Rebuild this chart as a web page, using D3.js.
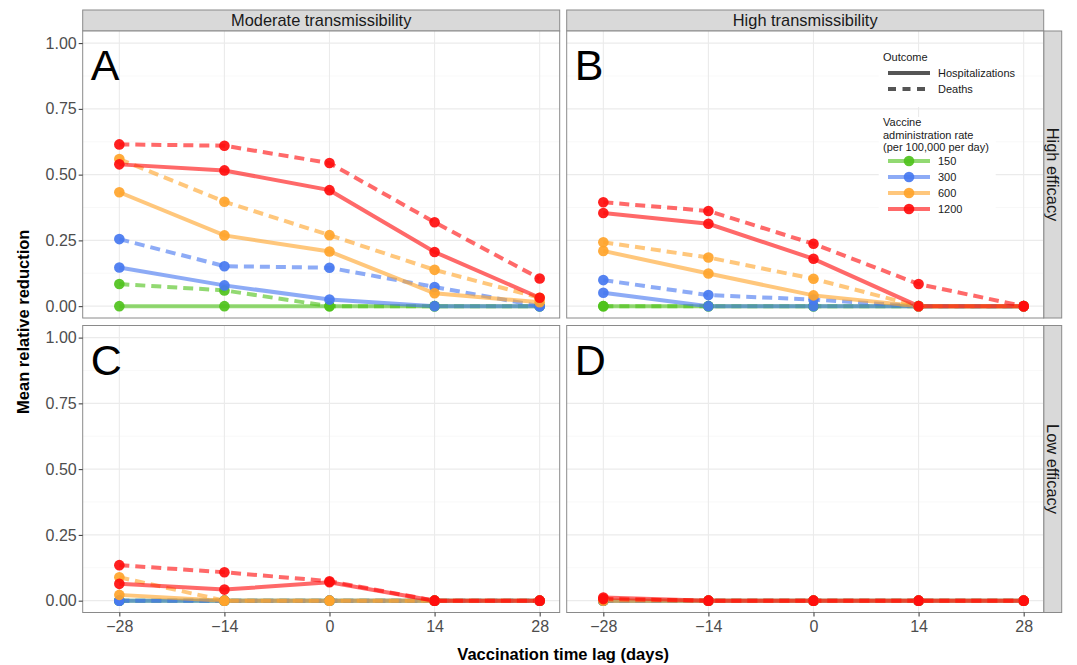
<html>
  <head>
    <meta charset="utf-8" />
    <title>Mean relative reduction</title>
    <style>
      body { margin: 0; background: #fff; }
      text { font-family: "Liberation Sans", Arial, sans-serif; }
    </style>
  </head>
  <body>
    <script src="https://cdnjs.cloudflare.com/ajax/libs/d3/7.8.5/d3.min.js"></script>
    <script>
      const width = 1077;
      const height = 665;

      // data
      const lags = [-28, -14, 0, 14, 28];
      const rates = ["150", "300", "600", "1200"];
      const rateColors = ["#4fc21c", "#4778f0", "#ffa42b", "#ff0d0d"];
      const outcomes = ["Hospitalizations", "Deaths"];
      const colLabels = ["Moderate transmissibility", "High transmissibility"];
      const rowLabels = ["High efficacy", "Low efficacy"];
      const panelLetters = ["A", "B", "C", "D"];
      const yTicks = [0, 0.25, 0.5, 0.75, 1];
      const yMinor = [0.125, 0.375, 0.625, 0.875];

      // rows = rates 150, 300, 600, 1200; columns = lags
      const hospA = [
        [0, 0, 0, 0, 0],
        [0.147, 0.079, 0.025, 0, 0],
        [0.433, 0.269, 0.208, 0.049, 0.015],
        [0.539, 0.516, 0.441, 0.206, 0.032]
      ];
      const deathA = [
        [0.084, 0.06, 0, 0, 0],
        [0.255, 0.152, 0.146, 0.073, 0],
        [0.559, 0.397, 0.27, 0.138, 0.032],
        [0.615, 0.61, 0.544, 0.319, 0.105]
      ];
      const hospB = [
        [0, 0, 0, 0, 0],
        [0.051, 0, 0, 0, 0],
        [0.21, 0.124, 0.041, 0, 0],
        [0.354, 0.313, 0.18, 0, 0]
      ];
      const deathB = [
        [0, 0, 0, 0, 0],
        [0.099, 0.042, 0.025, 0, 0],
        [0.243, 0.185, 0.104, 0, 0],
        [0.395, 0.362, 0.237, 0.084, 0]
      ];
      const hospC = [
        [0, 0, 0, 0, 0],
        [0, 0, 0, 0, 0],
        [0.022, 0, 0, 0, 0],
        [0.064, 0.042, 0.07, 0, 0]
      ];
      const deathC = [
        [0, 0, 0, 0, 0],
        [0, 0, 0, 0, 0],
        [0.089, 0, 0, 0, 0],
        [0.135, 0.108, 0.074, 0, 0]
      ];
      const hospD = [
        [0, 0, 0, 0, 0],
        [0, 0, 0, 0, 0],
        [0, 0, 0, 0, 0],
        [0.012, 0, 0, 0, 0]
      ];
      const deathD = [
        [0, 0, 0, 0, 0],
        [0, 0, 0, 0, 0],
        [0.005, 0, 0, 0, 0],
        [0.006, 0, 0, 0, 0]
      ];
      const panelData = [
        [hospA, deathA],
        [hospB, deathB],
        [hospC, deathC],
        [hospD, deathD]
      ];

      // layout
      const panelW = 477;
      const panelH = 287;
      const panelLeft = [82.7, 566.7];
      const panelTop = [31, 325.5];
      const borderCol = "#8a8a8a";
      const dash = "10,6";

      const x = d3.scaleLinear().domain([-32.88, 30.67]).range([0, panelW]);
      const y = d3.scaleLinear().domain([-0.045, 1.046]).range([panelH, 0]);

      let svg = d3
        .select("body")
        .append("svg")
        .attr("width", width)
        .attr("height", height);

      let line = d3
        .line()
        .x((d, i) => x(lags[i]))
        .y(d => y(d));

      // column strips
      colLabels.forEach(function(lab, c) {
        svg.append("rect")
          .attr("x", panelLeft[c])
          .attr("y", 10)
          .attr("width", panelW)
          .attr("height", panelTop[0] - 10)
          .attr("fill", "#d9d9d9")
          .attr("stroke", borderCol);
        svg.append("text")
          .attr("x", panelLeft[c] + panelW / 2)
          .attr("y", 25.8)
          .attr("text-anchor", "middle")
          .attr("font-size", 16.4)
          .attr("fill", "#1a1a1a")
          .text(lab);
      });

      // row strips
      rowLabels.forEach(function(lab, r) {
        let sx = panelLeft[1] + panelW;
        svg.append("rect")
          .attr("x", sx)
          .attr("y", panelTop[r])
          .attr("width", 18)
          .attr("height", panelH)
          .attr("fill", "#d9d9d9")
          .attr("stroke", borderCol);
        svg.append("text")
          .attr("transform", "translate(" + (sx + 3.5) + "," + (panelTop[r] + panelH / 2) + ") rotate(90)")
          .attr("text-anchor", "middle")
          .attr("font-size", 16.4)
          .attr("fill", "#1a1a1a")
          .text(lab);
      });

      panelLetters.forEach(function(letter, p) {
        let r = Math.floor(p / 2);
        let c = p % 2;
        let g = svg.append("g")
          .attr("transform", "translate(" + panelLeft[c] + "," + panelTop[r] + ")");

        g.append("rect")
          .attr("width", panelW)
          .attr("height", panelH)
          .attr("fill", "#fff");

        // grid
        g.selectAll(".ymin").data(yMinor).enter().append("line")
          .attr("x1", 0).attr("x2", panelW)
          .attr("y1", d => y(d)).attr("y2", d => y(d))
          .attr("stroke", "#f3f3f3").attr("stroke-width", 0.6);
        g.selectAll(".ymaj").data(yTicks).enter().append("line")
          .attr("x1", 0).attr("x2", panelW)
          .attr("y1", d => y(d)).attr("y2", d => y(d))
          .attr("stroke", "#ebebeb").attr("stroke-width", 1.1);
        g.selectAll(".xmaj").data(lags).enter().append("line")
          .attr("y1", 0).attr("y2", panelH)
          .attr("x1", d => x(d)).attr("x2", d => x(d))
          .attr("stroke", "#ebebeb").attr("stroke-width", 1.1);

        // legend boxes (panel B) cover grid
        if (p === 1) {
          g.append("rect").attr("x", 312).attr("y", 21).attr("width", 117).attr("height", 55).attr("fill", "#fff");
          g.append("rect").attr("x", 312).attr("y", 86).attr("width", 117).attr("height", 96).attr("fill", "#fff");
        }

        let series = panelData[p];
        // lines
        rates.forEach(function(rate, k) {
          outcomes.forEach(function(o, j) {
            g.append("path")
              .datum(series[j][k])
              .attr("d", line)
              .attr("fill", "none")
              .attr("stroke", rateColors[k])
              .attr("stroke-opacity", 0.62)
              .attr("stroke-width", 4)
              .attr("stroke-dasharray", j === 1 ? dash : null);
          });
        });
        // points
        rates.forEach(function(rate, k) {
          outcomes.forEach(function(o, j) {
            g.selectAll(null)
              .data(series[j][k])
              .enter()
              .append("circle")
              .attr("cx", (d, i) => x(lags[i]))
              .attr("cy", d => y(d))
              .attr("r", 5.3)
              .attr("fill", rateColors[k])
              .attr("fill-opacity", 0.92);
          });
        });

        g.append("rect")
          .attr("width", panelW)
          .attr("height", panelH)
          .attr("fill", "none")
          .attr("stroke", borderCol);

        g.append("text")
          .attr("x", 8)
          .attr("y", 49)
          .attr("font-size", 43)
          .attr("fill", "#000")
          .text(letter);

        // axes
        if (c === 0) {
          let ya = g.append("g")
            .call(d3.axisLeft(y).tickValues(yTicks).tickSize(4).tickFormat(d3.format(".2f")));
          ya.select(".domain").remove();
          ya.selectAll("line").attr("stroke", "#333");
          ya.selectAll("text")
            .attr("font-size", 16)
            .attr("fill", "#4d4d4d")
            .attr("font-family", "Liberation Sans, Arial, sans-serif")
            .attr("x", -6);
        }
        if (r === 1) {
          let xa = g.append("g")
            .attr("transform", "translate(0," + panelH + ")")
            .call(d3.axisBottom(x).tickValues(lags).tickSize(4).tickFormat(d => d < 0 ? "\u2212" + Math.abs(d) : d));
          xa.select(".domain").remove();
          xa.selectAll("line").attr("stroke", "#333");
          xa.selectAll("text")
            .attr("font-size", 16)
            .attr("fill", "#4d4d4d")
            .attr("font-family", "Liberation Sans, Arial, sans-serif")
            .attr("y", 8);
        }
      });

      // axis titles
      svg.append("text")
        .attr("x", panelLeft[0] + (panelLeft[1] + panelW - panelLeft[0]) / 2)
        .attr("y", 660)
        .attr("text-anchor", "middle")
        .attr("font-size", 16.5)
        .attr("font-weight", "bold")
        .attr("fill", "#000")
        .text("Vaccination time lag (days)");

      svg.append("text")
        .attr("transform", "translate(29," + (panelTop[0] + (panelTop[1] + panelH - panelTop[0]) / 2) + ") rotate(-90)")
        .attr("text-anchor", "middle")
        .attr("font-size", 16.5)
        .attr("font-weight", "bold")
        .attr("fill", "#000")
        .text("Mean relative reduction");

      // legend
      let leg = svg.append("g").attr("transform", "translate(883,0)");
      leg.append("text").attr("x", 0).attr("y", 61).attr("font-size", 11).attr("fill", "#1a1a1a").text("Outcome");
      outcomes.forEach(function(o, j) {
        let ly = 73 + j * 16;
        leg.append("line")
          .attr("x1", 5).attr("x2", 47)
          .attr("y1", ly).attr("y2", ly)
          .attr("stroke", "#555")
          .attr("stroke-width", 4)
          .attr("stroke-dasharray", j === 1 ? "8,6.5" : null);
        leg.append("text").attr("x", 55).attr("y", ly + 4).attr("font-size", 11).attr("fill", "#1a1a1a").text(o);
      });
      ["Vaccine", "administration rate", "(per 100,000 per day)"].forEach(function(t, i) {
        leg.append("text").attr("x", 0).attr("y", 126 + i * 12.5).attr("font-size", 11).attr("fill", "#1a1a1a").text(t);
      });
      rates.forEach(function(rate, k) {
        let ly = 161 + k * 16;
        leg.append("line")
          .attr("x1", 5).attr("x2", 47)
          .attr("y1", ly).attr("y2", ly)
          .attr("stroke", rateColors[k])
          .attr("stroke-opacity", 0.62)
          .attr("stroke-width", 4);
        leg.append("circle")
          .attr("cx", 26).attr("cy", ly).attr("r", 5.3)
          .attr("fill", rateColors[k]).attr("fill-opacity", 0.92);
        leg.append("text").attr("x", 55).attr("y", ly + 4).attr("font-size", 11).attr("fill", "#1a1a1a").text(rate);
      });
    </script>
  </body>
</html>
